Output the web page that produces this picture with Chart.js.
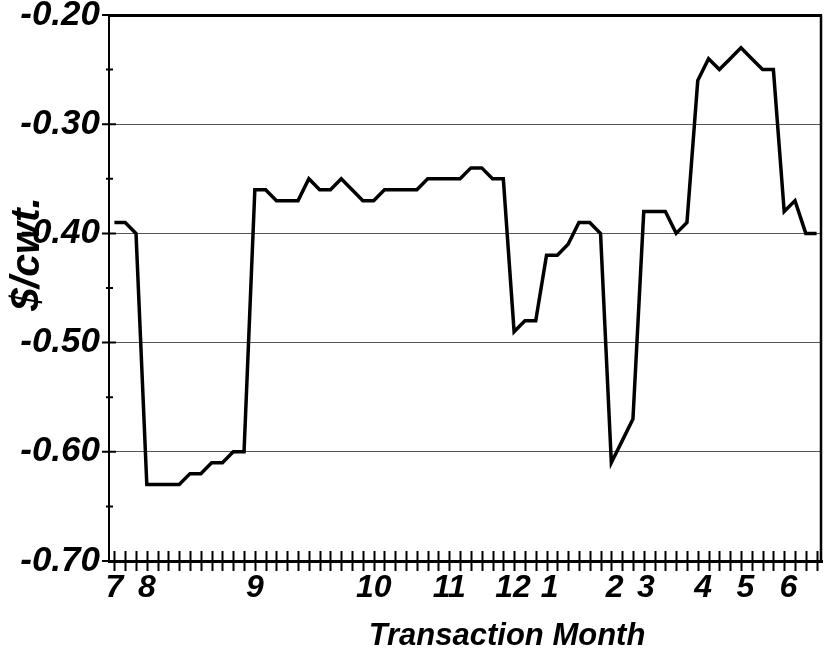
<!DOCTYPE html>
<html>
<head>
<meta charset="utf-8">
<script src="https://cdn.jsdelivr.net/npm/chart.js@4/dist/chart.umd.min.js"></script>
<style>
  html, body { margin: 0; padding: 0; background: #fff; }
  #wrap { width: 824px; height: 654px; position: relative; }
</style>
</head>
<body>
<div id="wrap"><canvas id="chart"></canvas></div>
<script>
// weekly basis values, $/cwt.
const basis = [
  -0.39, -0.39, -0.40, -0.63, -0.63, -0.63, -0.63, -0.62, -0.62, -0.61,
  -0.61, -0.60, -0.60, -0.36, -0.36, -0.37, -0.37, -0.37, -0.35, -0.36,
  -0.36, -0.35, -0.36, -0.37, -0.37, -0.36, -0.36, -0.36, -0.36, -0.35,
  -0.35, -0.35, -0.35, -0.34, -0.34, -0.35, -0.35, -0.49, -0.48, -0.48,
  -0.42, -0.42, -0.41, -0.39, -0.39, -0.40, -0.61, -0.59, -0.57, -0.38,
  -0.38, -0.38, -0.40, -0.39, -0.26, -0.24, -0.25, -0.24, -0.23, -0.24,
  -0.25, -0.25, -0.38, -0.37, -0.40, -0.40
];
// transaction month labels and the week where each one sits
const monthLabels = ['7', '8', '9', '10', '11', '12', '1', '2', '3', '4', '5', '6'];
const monthWeeks = [0, 3, 13, 24, 31, 36.9, 40.3, 46.3, 49.2, 54.5, 58.4, 62.4];
const yTicks = [-0.70, -0.60, -0.50, -0.40, -0.30, -0.20];
const yMinorTicks = [-0.65, -0.55, -0.45, -0.35, -0.25];
const xTitle = 'Transaction Month';
const yTitle = '$/cwt.';

const FONT = "'Liberation Sans', Arial, sans-serif";

// tick marks crossing the axes, frame on the right, axis titles
const decorations = {
  id: 'decorations',
  afterDraw(chart) {
    const ctx = chart.ctx;
    const area = chart.chartArea;
    const x = chart.scales.x;
    const y = chart.scales.y;
    ctx.save();
    ctx.strokeStyle = '#000';

    // right border
    ctx.lineWidth = 2.5;
    ctx.beginPath();
    ctx.moveTo(area.right - 1, area.top);
    ctx.lineTo(area.right - 1, area.bottom);
    ctx.stroke();

    // weekly ticks on the x axis
    ctx.lineWidth = 2;
    ctx.beginPath();
    for (let i = 0; i < basis.length; i++) {
      const px = Math.round(x.getPixelForValue(i)) + 0.5;
      ctx.moveTo(px, area.bottom - 10);
      ctx.lineTo(px, area.bottom + 10);
    }
    ctx.stroke();

    // y ticks
    ctx.beginPath();
    yTicks.forEach(v => {
      const py = y.getPixelForValue(v);
      ctx.moveTo(area.left - 7, py);
      ctx.lineTo(area.left + 7, py);
    });
    yMinorTicks.forEach(v => {
      const py = y.getPixelForValue(v);
      ctx.moveTo(area.left - 3, py);
      ctx.lineTo(area.left + 4, py);
    });
    ctx.stroke();

    // axis titles
    ctx.fillStyle = '#000';
    ctx.font = "italic bold 31px " + FONT;
    ctx.textAlign = 'center';
    ctx.textBaseline = 'alphabetic';
    ctx.fillText(xTitle, 507, 645);

    ctx.translate(39, 254);
    ctx.rotate(-Math.PI / 2);
    ctx.font = "italic bold 41px " + FONT;
    ctx.fillText(yTitle, 0, 0);
    ctx.restore();
  }
};

new Chart(document.getElementById('chart'), {
  type: 'line',
  data: {
    datasets: [{
      label: 'Basis',
      data: basis.map((v, i) => ({ x: i, y: v })),
      borderColor: '#000',
      borderWidth: 3.5,
      pointRadius: 0,
      tension: 0,
      fill: false
    }]
  },
  options: {
    responsive: true,
    maintainAspectRatio: false,
    animation: false,
    layout: { padding: { top: 15, right: 2, left: 0, bottom: 0 } },
    plugins: {
      legend: { display: false },
      tooltip: { enabled: false }
    },
    scales: {
      x: {
        type: 'linear',
        min: -0.5,
        max: basis.length - 0.5,
        afterBuildTicks: scale => {
          scale.ticks = monthWeeks.map(v => ({ value: v }));
        },
        afterFit: scale => {
          scale.height = 93;
          scale.paddingLeft = 0;
          scale.paddingRight = 0;
        },
        ticks: {
          autoSkip: false,
          maxRotation: 0,
          padding: 8,
          color: '#000',
          font: { family: FONT, size: 32, style: 'italic', weight: 'bold' },
          callback: (v, i) => monthLabels[i]
        },
        grid: { drawOnChartArea: false, drawTicks: false },
        border: { display: true, color: '#000', width: 3 }
      },
      y: {
        min: -0.70,
        max: -0.20,
        afterBuildTicks: scale => {
          scale.ticks = yTicks.map(v => ({ value: v }));
        },
        afterFit: scale => {
          scale.width = 109;
          scale.paddingTop = 0;
          scale.paddingBottom = 0;
        },
        ticks: {
          padding: 9,
          color: '#000',
          font: { family: FONT, size: 35, style: 'italic', weight: 'bold' },
          callback: v => v.toFixed(2)
        },
        grid: {
          drawTicks: false,
          color: ctx => {
            const v = ctx.tick ? ctx.tick.value : 0;
            if (Math.abs(v + 0.20) < 1e-6) return '#000';
            if (Math.abs(v + 0.70) < 1e-6) return 'rgba(0,0,0,0)';
            return '#555';
          },
          lineWidth: ctx => {
            const v = ctx.tick ? ctx.tick.value : 0;
            return Math.abs(v + 0.20) < 1e-6 ? 3 : 1;
          }
        },
        border: { display: true, color: '#000', width: 2 }
      }
    }
  },
  plugins: [decorations]
});
</script>
</body>
</html>
